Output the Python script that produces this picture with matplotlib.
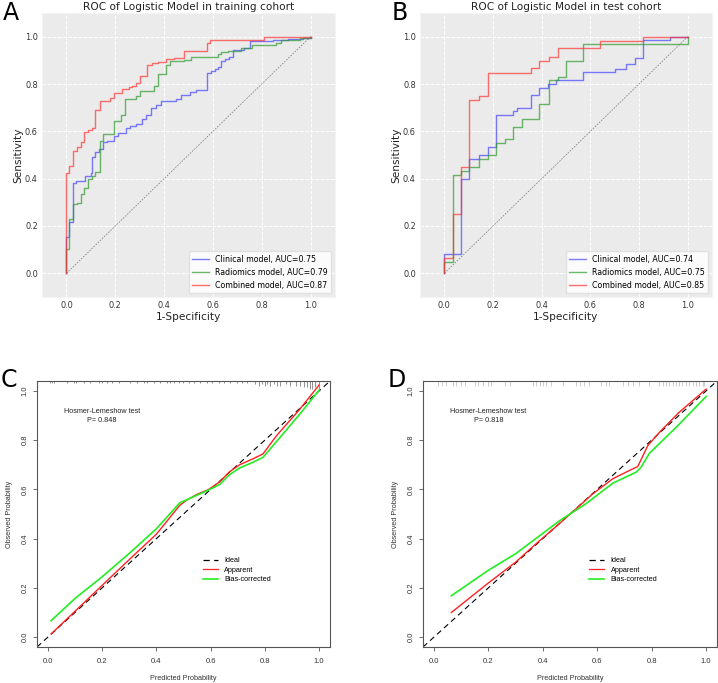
import matplotlib
matplotlib.use("Agg")
import matplotlib.pyplot as plt
from matplotlib.lines import Line2D

# ---------------- data ----------------
# Panel A (training cohort) ROC step points
a_clin_fpr = [0, 0, 0.012, 0.027, 0.04, 0.075, 0.1, 0.106, 0.119, 0.133, 0.151, 0.167, 0.195, 0.213,
              0.243, 0.262, 0.284, 0.31, 0.325, 0.346, 0.365, 0.387, 0.449, 0.469, 0.505, 0.53,
              0.575, 0.592, 0.61, 0.619, 0.635, 0.65, 0.667, 0.681, 0.729, 0.753, 0.845, 0.907, 0.969, 1.0]
a_clin_tpr = [0, 0.155, 0.218, 0.383, 0.39, 0.41, 0.425, 0.49, 0.511, 0.525, 0.554, 0.558, 0.58, 0.593,
              0.612, 0.622, 0.633, 0.65, 0.67, 0.698, 0.712, 0.728, 0.737, 0.755, 0.765, 0.776,
              0.847, 0.855, 0.862, 0.872, 0.896, 0.905, 0.916, 0.942, 0.952, 0.98, 0.985, 0.992, 0.996, 1.0]
a_rad_fpr = [0, 0, 0.01, 0.027, 0.044, 0.058, 0.071, 0.088, 0.103, 0.119, 0.136, 0.151, 0.195, 0.225,
             0.24, 0.284, 0.3, 0.359, 0.376, 0.407, 0.424, 0.483, 0.512, 0.619, 0.635, 0.66, 0.713,
             0.761, 0.86, 0.88, 0.955, 1.0]
a_rad_tpr = [0, 0.101, 0.23, 0.291, 0.298, 0.336, 0.361, 0.397, 0.413, 0.428, 0.558, 0.59, 0.643, 0.671,
             0.737, 0.751, 0.769, 0.79, 0.842, 0.879, 0.896, 0.903, 0.913, 0.927, 0.934, 0.94, 0.951,
             0.965, 0.972, 0.985, 0.995, 1.0]
a_comb_fpr = [0, 0, 0.012, 0.027, 0.044, 0.058, 0.071, 0.088, 0.106, 0.119, 0.136, 0.178, 0.195, 0.226,
              0.256, 0.27, 0.284, 0.3, 0.332, 0.352, 0.375, 0.407, 0.44, 0.483, 0.575, 0.59, 0.81, 1.0]
a_comb_tpr = [0, 0.425, 0.453, 0.516, 0.534, 0.554, 0.598, 0.607, 0.614, 0.692, 0.727, 0.741, 0.76, 0.779,
              0.788, 0.793, 0.805, 0.835, 0.879, 0.889, 0.893, 0.906, 0.91, 0.938, 0.973, 0.985, 1.0, 1.0]
a_labels = ["Clinical model, AUC=0.75", "Radiomics model, AUC=0.79", "Combined model, AUC=0.87"]

# Panel B (test cohort) ROC step points
b_clin_fpr = [0, 0, 0.068, 0.103, 0.141, 0.178, 0.212, 0.281, 0.3, 0.356, 0.39, 0.428, 0.46, 0.568,
              0.644, 0.70, 0.747, 0.785, 0.818, 0.927, 1.0]
b_clin_tpr = [0, 0.083, 0.399, 0.483, 0.501, 0.534, 0.668, 0.688, 0.699, 0.752, 0.783, 0.801, 0.818, 0.85,
              0.852, 0.864, 0.884, 0.91, 0.984, 1.0, 1.0]
b_rad_fpr = [0, 0, 0.034, 0.068, 0.103, 0.141, 0.178, 0.212, 0.249, 0.284, 0.319, 0.39, 0.429, 0.466,
             0.5, 0.568, 1.0, 1.0]
b_rad_tpr = [0, 0.049, 0.417, 0.434, 0.45, 0.483, 0.50, 0.55, 0.567, 0.618, 0.652, 0.716, 0.817, 0.831,
             0.899, 0.968, 0.968, 1.0]
b_comb_fpr = [0, 0, 0.034, 0.068, 0.103, 0.144, 0.178, 0.356, 0.39, 0.429, 0.466, 0.64, 0.818, 1.0]
b_comb_tpr = [0, 0.066, 0.251, 0.449, 0.733, 0.75, 0.848, 0.867, 0.899, 0.916, 0.951, 0.983, 1.0, 1.0]
b_labels = ["Clinical model, AUC=0.74", "Radiomics model, AUC=0.75", "Combined model, AUC=0.85"]

roc_ticks = [0.0, 0.2, 0.4, 0.6, 0.8, 1.0]

# Panel C calibration (training)
c_app_x = [0.012, 0.1, 0.2, 0.3, 0.4, 0.486, 0.51, 0.55, 0.59, 0.633, 0.67, 0.707, 0.756, 0.793, 0.843, 0.929, 1.0]
c_app_y = [0.013, 0.105, 0.21, 0.315, 0.418, 0.535, 0.555, 0.58, 0.598, 0.63, 0.672, 0.70, 0.724, 0.744, 0.818, 0.926, 1.024]
c_bc_x = [0.012, 0.1, 0.2, 0.3, 0.4, 0.486, 0.547, 0.59, 0.633, 0.67, 0.707, 0.756, 0.793, 0.855, 0.929, 1.0]
c_bc_y = [0.067, 0.157, 0.245, 0.34, 0.44, 0.545, 0.575, 0.596, 0.62, 0.66, 0.687, 0.71, 0.73, 0.81, 0.906, 1.003]
c_pval = "P= 0.848"
c_rug_x = [0.009, 0.017, 0.023, 0.07, 0.095, 0.105, 0.132, 0.156, 0.187, 0.199, 0.218, 0.236, 0.261, 0.304,
           0.328, 0.353, 0.365, 0.39, 0.415, 0.439, 0.451, 0.464, 0.482, 0.5, 0.519, 0.537, 0.562, 0.587,
           0.605, 0.63, 0.648, 0.673, 0.697, 0.716, 0.734, 0.765, 0.777, 0.79, 0.802, 0.808, 0.82, 0.833,
           0.845, 0.857, 0.876, 0.894, 0.913, 0.931, 0.943, 0.956, 0.968, 0.974, 0.986, 0.999]
c_rug_n = [1, 1, 1, 1, 1, 1, 1, 1, 1, 1, 1, 1, 1, 1,
           1, 1, 1, 1, 1, 1, 1, 1, 1, 1, 1, 1, 1, 1,
           1, 1, 1, 1, 1, 1, 1, 2, 3, 2, 3, 2, 3, 2,
           3, 3, 2, 3, 3, 3, 4, 4, 5, 5, 4, 5]

# Panel D calibration (test)
d_app_x = [0.064, 0.198, 0.302, 0.376, 0.461, 0.523, 0.584, 0.657, 0.706, 0.749, 0.786, 0.829, 0.9, 1.0]
d_app_y = [0.10, 0.218, 0.306, 0.38, 0.461, 0.522, 0.582, 0.643, 0.67, 0.693, 0.778, 0.832, 0.912, 1.007]
d_bc_x = [0.064, 0.198, 0.302, 0.461, 0.559, 0.657, 0.743, 0.761, 0.792, 0.89, 1.0]
d_bc_y = [0.168, 0.27, 0.34, 0.472, 0.542, 0.625, 0.67, 0.69, 0.747, 0.852, 0.977]
d_pval = "P= 0.818"
d_rug_x = [0.016, 0.028, 0.046, 0.071, 0.083, 0.101, 0.114, 0.15, 0.162, 0.181, 0.199, 0.211, 0.26, 0.278,
           0.364, 0.376, 0.388, 0.4, 0.413, 0.431, 0.474, 0.523, 0.535, 0.553, 0.571, 0.614, 0.632, 0.645,
           0.696, 0.712, 0.73, 0.755, 0.791, 0.828, 0.84, 0.852, 0.864, 0.877, 0.889, 0.901, 0.913, 0.926,
           0.938, 0.95, 0.962, 0.974, 0.987, 0.993]
d_rug_n = [3] * len(d_rug_x)
cal_ticks = [0.0, 0.2, 0.4, 0.6, 0.8, 1.0]
cal_legend = ["Ideal", "Apparent", "Bias-corrected"]

# ---------------- figure ----------------
W, H = 718, 683
fig = plt.figure(figsize=(W / 100, H / 100), dpi=100)
fig.patch.set_facecolor("white")


def rect(l, t, r, b):
    return [l / W, 1 - b / H, (r - l) / W, (b - t) / H]


axA = fig.add_axes(rect(42, 13, 335, 297))
axB = fig.add_axes(rect(420, 13, 712, 297))
axC = fig.add_axes(rect(37, 381, 330, 647))
axD = fig.add_axes(rect(423, 381, 717, 647))

roc_colors = ["#4444ff", "#2e9a2e", "#ff3333"]


def roc_panel(ax, curves, labels, title):
    ax.set_facecolor("#ebebeb")
    for sp in ax.spines.values():
        sp.set_color("#f4f4f4")
        sp.set_linewidth(0.8)
    ax.grid(True, color="white", linestyle="--", linewidth=0.7)
    ax.set_axisbelow(True)
    ax.plot([0, 1], [0, 1], color="#888888", linestyle="--", linewidth=0.6, dashes=(2, 1.5))
    for (fx, ty), c, lab in zip(curves, roc_colors, labels):
        ax.plot(fx, ty, drawstyle="steps-post", color=c, alpha=0.7, linewidth=1.0, label=lab)
    ax.set_xlim(-0.1, 1.1)
    ax.set_ylim(-0.1, 1.1)
    ax.set_xticks(roc_ticks)
    ax.set_yticks(roc_ticks)
    ax.set_xticklabels([f"{t:.1f}" for t in roc_ticks])
    ax.set_yticklabels([f"{t:.1f}" for t in roc_ticks])
    ax.tick_params(length=0, labelsize=5.9, labelcolor="#333333", pad=3)
    ax.set_xlabel("1-Specificity", fontsize=7.6, color="#222222", labelpad=1)
    ax.set_ylabel("Sensitivity", fontsize=7.6, color="#222222", labelpad=1.5)
    ax.set_title(title, fontsize=7.6, color="#222222", pad=2.5)
    leg = ax.legend(loc="lower right", fontsize=5.7, frameon=True, borderaxespad=0.45,
                    handlelength=2.1, labelspacing=0.5, borderpad=0.45, handletextpad=0.8)
    leg.get_frame().set_facecolor("white")
    leg.get_frame().set_edgecolor("#dddddd")
    leg.get_frame().set_alpha(0.85)


roc_panel(axA, [(a_clin_fpr, a_clin_tpr), (a_rad_fpr, a_rad_tpr), (a_comb_fpr, a_comb_tpr)],
          a_labels, "ROC of Logistic Model in training cohort")
roc_panel(axB, [(b_clin_fpr, b_clin_tpr), (b_rad_fpr, b_rad_tpr), (b_comb_fpr, b_comb_tpr)],
          b_labels, "ROC of Logistic Model in test cohort")

rfont = "Liberation Sans"


def cal_panel(ax, app_x, app_y, bc_x, bc_y, pval, rug_x, rug_n, rug_color, rug_unit):
    ax.set_facecolor("white")
    for sp in ax.spines.values():
        sp.set_color("#555555")
        sp.set_linewidth(0.8)
    ax.set_xlim(-0.04, 1.04)
    ax.set_ylim(-0.04, 1.04)
    ax.axline((0, 0), slope=1, color="black", linestyle="--", linewidth=0.8, dashes=(5, 3.5))
    ax.plot(app_x, app_y, color="#ff2020", linewidth=1.0)
    ax.plot(bc_x, bc_y, color="#22ee22", linewidth=1.2)
    trans = ax.get_xaxis_transform()
    ax.vlines(rug_x, [1 - n * rug_unit for n in rug_n], 1, color=rug_color, linewidth=0.6, transform=trans)
    ax.set_xticks(cal_ticks)
    ax.set_yticks(cal_ticks)
    ax.set_xticklabels([f"{t:.1f}" for t in cal_ticks], fontfamily=rfont)
    ax.set_yticklabels([f"{t:.1f}" for t in cal_ticks], fontfamily=rfont, rotation=90, va="center")
    ax.tick_params(direction="out", length=3, width=0.6, color="#555555", labelsize=5.5,
                   labelcolor="#333333")
    ax.tick_params(axis="x", pad=5)
    ax.tick_params(axis="y", pad=3)
    ax.set_xlabel("Predicted Probability", fontsize=5.2, fontfamily=rfont, color="#333333", labelpad=7)
    ax.set_ylabel("Observed Probability", fontsize=5.2, fontfamily=rfont, color="#333333", labelpad=6.5)
    ax.text(0.2, 0.916, "Hosmer-Lemeshow test", ha="center", va="center", fontsize=5.2,
            fontfamily=rfont, color="#222222")
    ax.text(0.2, 0.878, pval, ha="center", va="center", fontsize=5.2, fontfamily=rfont, color="#222222")
    handles = [Line2D([], [], color="black", linestyle="--", linewidth=0.9, dashes=(5, 3.5)),
               Line2D([], [], color="#ff2020", linewidth=0.9),
               Line2D([], [], color="#22ee22", linewidth=1.2)]
    ax.legend(handles, cal_legend, loc="upper left", bbox_to_anchor=(0.553, 0.352), frameon=False,
              prop={"family": rfont, "size": 5.2}, handlelength=2.1, handletextpad=0.9,
              labelspacing=0.35, borderpad=0)


cal_panel(axC, c_app_x, c_app_y, c_bc_x, c_bc_y, c_pval, c_rug_x, c_rug_n, "#808080", 1.6 / 266)
cal_panel(axD, d_app_x, d_app_y, d_bc_x, d_bc_y, d_pval, d_rug_x, d_rug_n, "#c4c4c4", 1.6 / 266)

# panel letters
fig.text(3 / W, 1 - 20 / H, "A", fontsize=17, va="baseline", ha="left")
fig.text(392 / W, 1 - 20 / H, "B", fontsize=17, va="baseline", ha="left")
fig.text(1 / W, 1 - 387 / H, "C", fontsize=17, va="baseline", ha="left")
fig.text(388 / W, 1 - 387 / H, "D", fontsize=17, va="baseline", ha="left")

fig.savefig("out.png", dpi=100, facecolor="white")
